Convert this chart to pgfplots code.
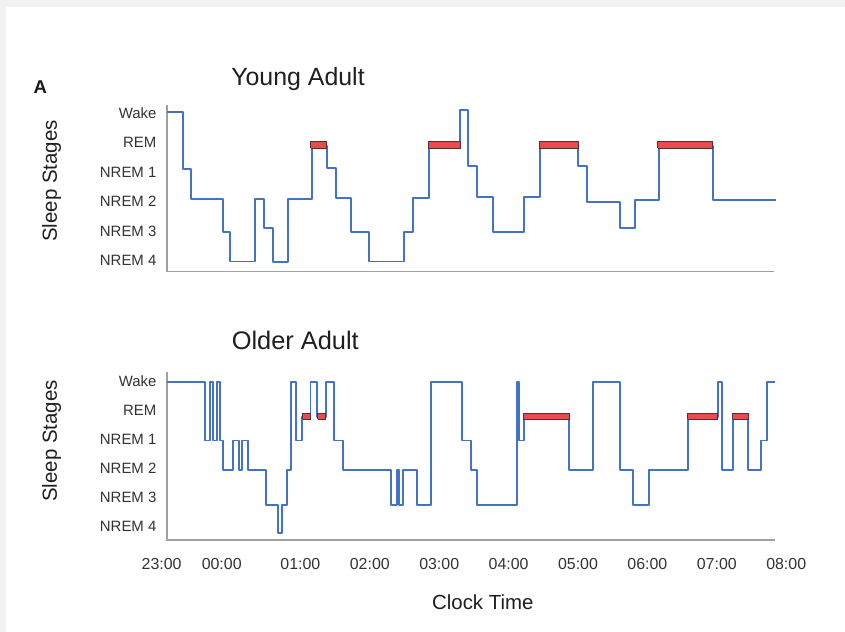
\documentclass[border=0pt]{standalone}
\usepackage{fontspec}
\setmainfont{Liberation Sans}
\usepackage{pgfplots}
\pgfplotsset{compat=1.18}
\definecolor{hyp}{HTML}{4472C4}
\definecolor{rembar}{HTML}{E84C4C}
\definecolor{rembd}{HTML}{5A2E2E}
\definecolor{axgray}{HTML}{A0A0A0}
\definecolor{bgray}{HTML}{F2F2F2}
\definecolor{txt}{HTML}{333333}
\pgfplotsset{
  hypno/.style={
    scale only axis, width=624.6bp, xmin=0, xmax=9,
    axis lines*=left, axis line style={draw=none},
    major tick length=0pt, tick style={draw=none},
    ytick={0,1,2,3,4,5},
    yticklabels={NREM 4,NREM 3,NREM 2,NREM 1,REM,Wake},
    yticklabel style={font=\fontsize{15}{18}\selectfont, text=txt, inner sep=0pt, anchor=east, xshift=-5bp},
    clip=false,
  },
  hline/.style={hyp, line width=1.8bp, const plot, line join=round, mark=none},
  rbar/.style={fill=rembar, draw=rembd, line width=0.8bp, mark=none, sharp plot},
}
\begin{document}
\begin{tikzpicture}
\fill[bgray] (0,0) rectangle (845bp,-632bp);
\fill[white] (5.7bp,-7.3bp) rectangle (845bp,-632bp);

% ---------------- Young Adult ----------------
\begin{axis}[hypno, at={(161.6bp,-271.6bp)}, anchor=south west,
  height=167.3bp, ymin=-0.37, ymax=5.3, xtick=\empty]
\draw[axgray, line width=1.5bp] (axis cs:0.078,5.28) -- (axis cs:0.078,-0.37) -- (axis cs:8.82,-0.37);
\addplot[hline] coordinates {
(0.078,5.05) (0.304,3.12) (0.424,2.1) (0.880,0.97) (0.986,-0.03)
(1.350,2.1) (1.480,1.1) (1.601,-0.05) (1.817,2.1) (2.163,3.9)
(2.379,3.14) (2.509,2.12) (2.725,0.98) (2.984,-0.03) (3.497,0.97)
(3.627,2.12) (3.857,3.9) (4.300,5.1) (4.419,3.2) (4.549,2.15)
(4.780,0.98) (5.222,2.15) (5.452,3.9) (6.004,3.2) (6.134,2.0)
(6.605,1.1) (6.821,2.05) (7.167,3.9) (7.945,2.05) (8.849,2.05)};
\addplot[rbar] coordinates {(2.149,3.81) (2.149,4.03) (2.379,4.03) (2.379,3.81) (2.149,3.81)};
\addplot[rbar] coordinates {(3.843,3.81) (3.843,4.03) (4.300,4.03) (4.300,3.81) (3.843,3.81)};
\addplot[rbar] coordinates {(5.442,3.81) (5.442,4.03) (6.004,4.03) (6.004,3.81) (5.442,3.81)};
\addplot[rbar] coordinates {(7.147,3.81) (7.147,4.03) (7.939,4.03) (7.939,3.81) (7.147,3.81)};
\end{axis}

% ---------------- Older Adult ----------------
\begin{axis}[hypno, at={(161.6bp,-540.1bp)}, anchor=south west,
  height=168.5bp, ymin=-0.46, ymax=5.33,
  xtick={0,0.866,2,3,4,5,6,7,8,9},
  xticklabels={23:00,00:00,01:00,02:00,03:00,04:00,05:00,06:00,07:00,08:00},
  xticklabel style={font=\fontsize{16}{19}\selectfont, text=txt, inner sep=0pt, anchor=north, yshift=-18bp}]
\draw[axgray, line width=1.5bp] (axis cs:0.078,5.31) -- (axis cs:0.078,-0.46) -- (axis cs:8.84,-0.46);
\addplot[hline] coordinates {
(0.073,4.97) (0.625,2.96) (0.697,4.97) (0.736,2.96) (0.803,4.97)
(0.841,2.96) (0.889,1.95) (1.033,2.96) (1.120,1.95) (1.159,2.96)
(1.249,1.95) (1.504,0.75) (1.682,-0.22) (1.731,0.75) (1.811,1.95)
(1.860,4.97) (1.937,2.96) (2.025,3.78) (2.145,4.97) (2.240,3.78)
(2.370,4.97) (2.484,2.96) (2.618,1.95) (3.301,0.75) (3.388,1.95)
(3.416,0.75) (3.474,1.95) (3.676,0.75) (3.878,4.97) (4.324,2.96)
(4.458,1.95) (4.549,0.75) (5.117,4.97) (5.150,2.96) (5.222,3.78)
(5.875,1.95) (6.220,4.97) (6.605,1.95) (6.788,0.75) (7.023,1.95)
(7.589,3.78) (8.022,4.97) (8.079,1.95) (8.238,3.78) (8.454,1.95)
(8.633,2.96) (8.719,4.97) (8.839,4.97)};
\addplot[rbar] coordinates {(2.033,3.70) (2.033,3.90) (2.138,3.90) (2.138,3.70) (2.033,3.70)};
\addplot[rbar] coordinates {(2.249,3.70) (2.249,3.90) (2.365,3.90) (2.365,3.70) (2.249,3.70)};
\addplot[rbar] coordinates {(5.211,3.70) (5.211,3.90) (5.870,3.90) (5.870,3.70) (5.211,3.70)};
\addplot[rbar] coordinates {(7.581,3.70) (7.581,3.90) (8.013,3.90) (8.013,3.70) (7.581,3.70)};
\addplot[rbar] coordinates {(8.229,3.70) (8.229,3.90) (8.454,3.90) (8.454,3.70) (8.229,3.70)};
\end{axis}

% ---------------- Text ----------------
\node[anchor=base west, inner sep=0pt, font=\bfseries\fontsize{18.6}{22}\selectfont, text=black!90] at (33.3bp,-93.3bp) {A};
\node[anchor=base, inner sep=0pt, font=\fontsize{25}{30}\selectfont, text=black!88] at (298bp,-85bp) {Young Adult};
\node[anchor=base, inner sep=0pt, font=\fontsize{25.5}{30}\selectfont, text=black!88] at (295.3bp,-349.3bp) {Older Adult};
\node[rotate=90, inner sep=0pt, font=\fontsize{20.5}{24}\selectfont, text=black!88] at (51.7bp,-181bp) {Sleep Stages};
\node[rotate=90, inner sep=0pt, font=\fontsize{20.5}{24}\selectfont, text=black!88] at (51.7bp,-441bp) {Sleep Stages};
\node[inner sep=0pt, font=\fontsize{20.5}{24}\selectfont, text=black!88] at (482.8bp,-602bp) {Clock Time};
\end{tikzpicture}
\end{document}
